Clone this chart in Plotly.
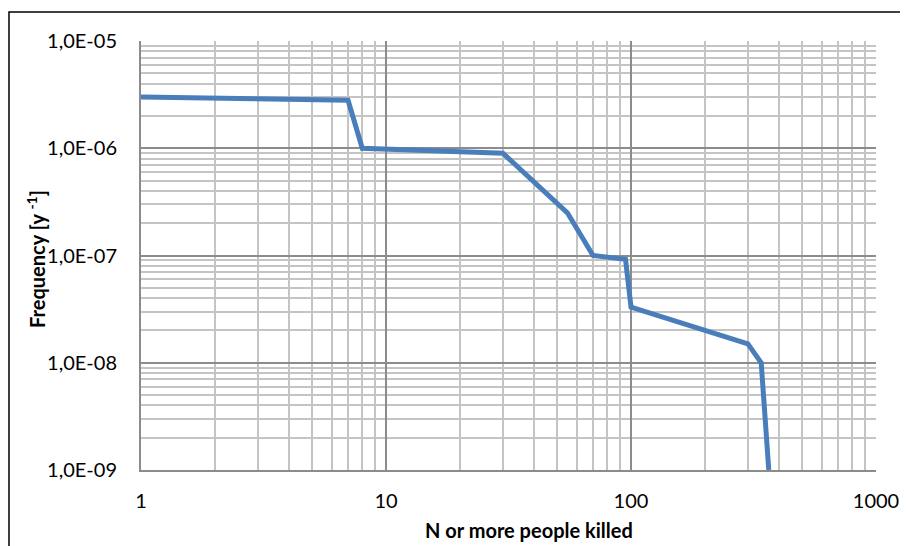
import plotly.graph_objects as go

# Data
n_killed = [1, 7, 8, 30, 55, 70, 95, 100, 300, 340, 365]
frequency = [3.0e-6, 2.8e-6, 1.0e-6, 9.0e-7, 2.5e-7, 1.0e-7, 9.2e-8, 3.3e-8, 1.5e-8, 1.0e-8, 1.0e-9]

x_tickvals = [1, 10, 100, 1000]
x_ticktext = ["1", "10", "100", "1000"]
y_tickvals = [1e-9, 1e-8, 1e-7, 1e-6, 1e-5]
y_ticktext = ["1,0E-09", "1,0E-08", "1,0E-07", "1,0E-06", "1,0E-05"]

x_title = "N or more people killed"
y_title = "Frequency [y <sup>-1</sup>]"

FONT = "Lato, 'Open Sans', sans-serif"
MAJOR = "#8c8c8c"
MINOR = "#c4c4c4"

fig = go.Figure()
fig.add_trace(go.Scatter(
    x=n_killed, y=frequency, mode="lines",
    line=dict(color="#4a7ebb", width=5),
    showlegend=False,
))

# page body has an 8px margin, so offset the figure accordingly
fig.update_layout(
    width=900, height=538,
    margin=dict(l=133, r=32, t=33, b=76),
    paper_bgcolor="white", plot_bgcolor="white",
    font=dict(family=FONT, size=20, color="#000000"),
    xaxis=dict(
        type="log", range=[0, 3], automargin=False,
        tickvals=x_tickvals, ticktext=x_ticktext,
        showgrid=True, gridcolor=MAJOR, gridwidth=1.5,
        minor=dict(showgrid=True, gridcolor=MINOR, gridwidth=1.5, dtick="D1", ticks=""),
        showline=True, linecolor=MAJOR, linewidth=2,
        ticks="", ticklabelstandoff=12, zeroline=False,
    ),
    yaxis=dict(
        type="log", range=[-9, -5], automargin=False,
        tickvals=y_tickvals, ticktext=y_ticktext,
        showgrid=True, gridcolor=MAJOR, gridwidth=1.5,
        minor=dict(showgrid=True, gridcolor=MINOR, gridwidth=1.5, dtick="D1", ticks=""),
        showline=True, linecolor=MAJOR, linewidth=2,
        ticks="", ticklabelstandoff=18, zeroline=False,
    ),
    annotations=[
        dict(text="<b>" + x_title + "</b>", xref="paper", yref="paper",
             x=0.528, y=-0.14, xanchor="center", yanchor="middle",
             showarrow=False, font=dict(size=20)),
        dict(text="<b>" + y_title + "</b>", xref="paper", yref="paper",
             x=-0.1429, y=0.492, xanchor="center", yanchor="middle",
             textangle=-90, showarrow=False, font=dict(size=20)),
    ],
    shapes=[dict(
        type="rect", xref="paper", yref="paper",
        x0=-0.1796, x1=1.2, y0=-0.4, y1=1.0676,
        line=dict(color="black", width=1.5), fillcolor="rgba(0,0,0,0)",
        layer="below",
    )],
)

fig.write_html("out.html")
